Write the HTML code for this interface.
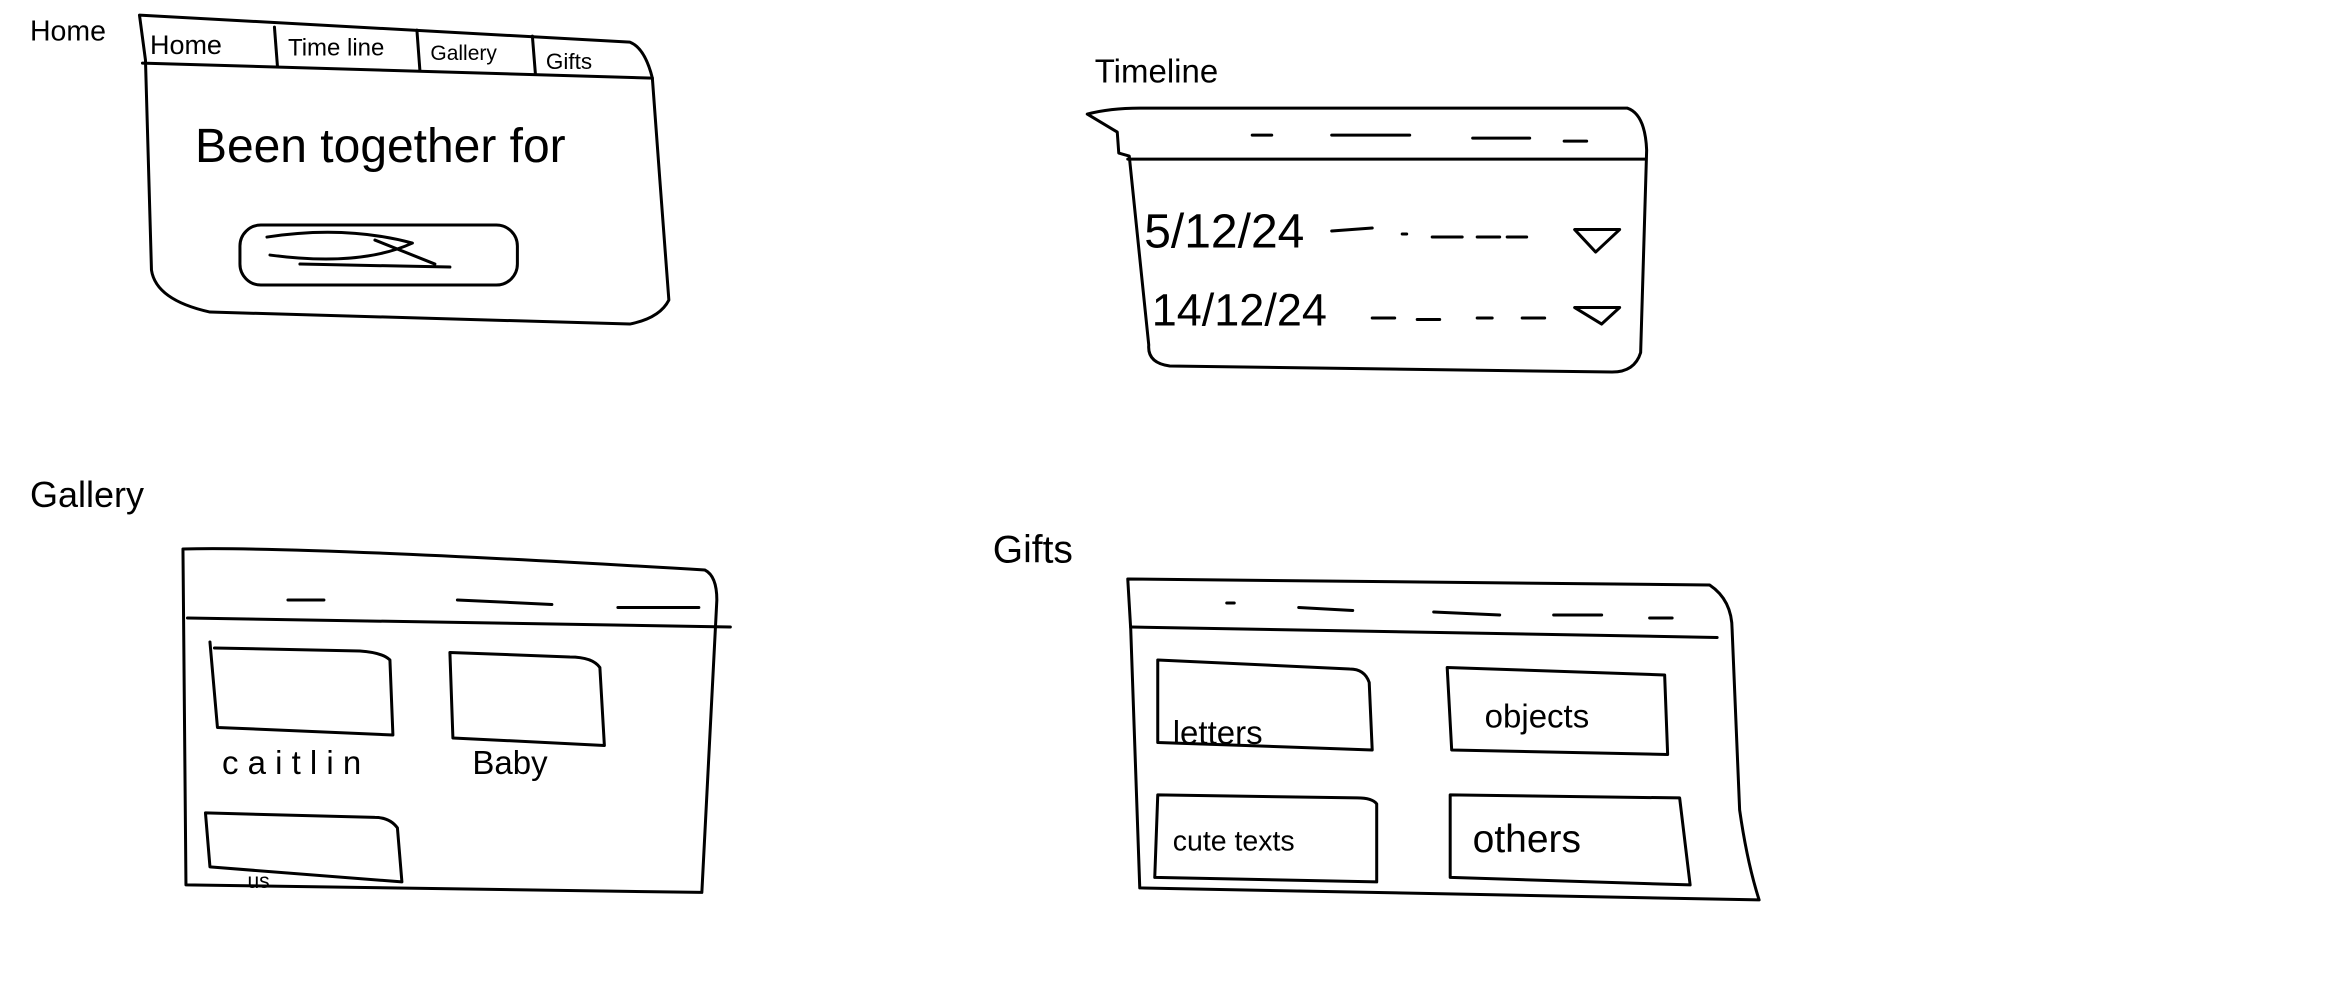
<!DOCTYPE html>
<html><head><meta charset="utf-8"><style>
html,body{margin:0;padding:0;background:#fff;width:2326px;height:990px;overflow:hidden}
svg{display:block}
text{font-family:"Liberation Sans",sans-serif;fill:#000}
path,rect,line,polyline{fill:none;stroke:#000;stroke-width:2;stroke-linecap:round;stroke-linejoin:round}
</style></head><body>
<svg width="2326" height="990" viewBox="0 0 1551 660">
<!-- HOME -->
<g>
<text x="20" y="27" font-size="19">Home</text>
<path d="M93 10 L420 28 Q430 32 435 52 L440 120 L446 200 Q440 212 420 216 L140 208 Q104 200 101 180 L97 40 Z"/>
<line x1="95" y1="42" x2="435" y2="52"/>
<line x1="183" y1="18" x2="185" y2="44"/><line x1="278" y1="20" x2="280" y2="47"/><line x1="355" y1="24" x2="357" y2="49"/>
<text x="100" y="36" font-size="18">Home</text>
<text x="192" y="37" font-size="16">Time line</text>
<text x="287" y="40" font-size="14">Gallery</text>
<text x="364" y="46" font-size="15">Gifts</text>
<text x="130" y="108" font-size="32">Been  together for</text>
<rect x="160" y="150" width="185" height="40" rx="14"/>
<path d="M178 158 Q230 150 275 162 Q240 178 180 170 M200 176 L300 178 M250 160 L290 176"/>
</g>
<!-- TIMELINE -->
<g>
<text x="730" y="55" font-size="22">Timeline</text>
<path d="M725 76 Q740 72 760 72 L1085 72 Q1097 76 1098 100 L1094 235 Q1090 248 1075 248 L780 244 Q765 242 766 230 L753 104 L746 102 L745 88 Z"/>
<line x1="752" y1="106" x2="1097" y2="106"/>
<line x1="835" y1="90" x2="848" y2="90"/><line x1="888" y1="90" x2="940" y2="90"/><line x1="982" y1="92" x2="1020" y2="92"/><line x1="1043" y1="94" x2="1058" y2="94"/>
<text x="763" y="165" font-size="32">5/12/24</text>
<path d="M888 154 L915 152 M935 156 L938 156 M955 158 L975 158 M985 158 L1000 158 M1005 158 L1018 158"/>
<path d="M1050 153 L1080 153 L1064 168 Z"/>
<text x="768" y="217" font-size="30">14/12/24</text>
<path d="M915 212 L930 212 M945 213 L960 213 M985 212 L995 212 M1015 212 L1030 212"/>
<path d="M1050 205 L1080 205 L1068 216 Z"/>
</g>
<!-- GALLERY -->
<g>
<text x="20" y="338" font-size="24">Gallery</text>
<path d="M122 366 Q200 364 470 380 Q478 384 478 400 L468 595 L124 590 Z"/>
<line x1="125" y1="412" x2="487" y2="418"/>
<line x1="192" y1="400" x2="216" y2="400"/><line x1="305" y1="400" x2="368" y2="403"/><line x1="412" y1="405" x2="466" y2="405"/>
<path d="M140 428 L145 485 L262 490 L260 440 Q255 435 240 434 L143 432"/>
<text x="148" y="516" font-size="22">c a i t l i n</text>
<path d="M300 435 L302 492 L403 497 L400 445 Q395 438 380 438 Z"/>
<text x="315" y="516" font-size="22">Baby</text>
<path d="M137 542 L140 578 L268 588 L265 552 Q260 545 250 545 Z"/>
<text x="165" y="592" font-size="14">us</text>
</g>
<!-- GIFTS -->
<g>
<text x="662" y="375" font-size="26">Gifts</text>
<path d="M752 386 L1140 390 Q1155 400 1155 420 L1160 540 Q1165 575 1173 600 L760 592 L754 420 Z"/>
<line x1="754" y1="418" x2="1145" y2="425"/>
<line x1="818" y1="402" x2="823" y2="402"/><line x1="866" y1="405" x2="902" y2="407"/><line x1="956" y1="408" x2="1000" y2="410"/><line x1="1036" y1="410" x2="1068" y2="410"/><line x1="1100" y1="412" x2="1115" y2="412"/>
<path d="M772 440 L772 495 L915 500 L913 455 Q910 446 900 446 Z"/>
<text x="782" y="496" font-size="22">letters</text>
<path d="M965 445 L968 500 L1112 503 L1110 450 Z"/>
<text x="990" y="485" font-size="22">objects</text>
<path d="M772 530 L770 585 L918 588 L918 536 Q915 532 905 532 Z"/>
<text x="782" y="567" font-size="19">cute   texts</text>
<path d="M967 530 L967 585 L1127 590 L1120 532 Z"/>
<text x="982" y="568" font-size="26">others</text>
</g>
</svg>
</body></html>
